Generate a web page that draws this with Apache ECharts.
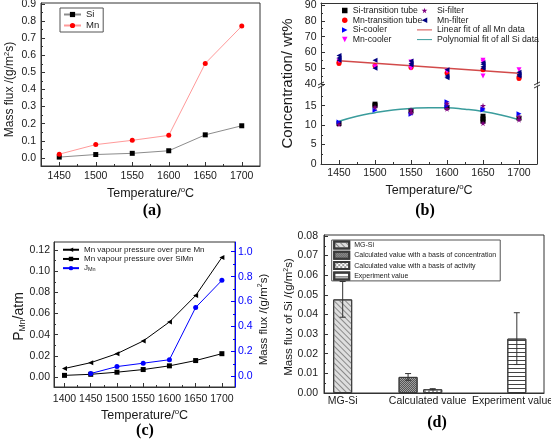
<!DOCTYPE html>
<html><head><meta charset="utf-8">
<script src="https://cdn.jsdelivr.net/npm/echarts@6/dist/echarts.min.js"></script>
<style>html,body{margin:0;padding:0;background:#fff}#c{width:551px;height:442px}</style>
</head><body><div id="c"></div>
<script>
// ---------------- (a) ----------------
const tempA = [1450, 1500, 1550, 1600, 1650, 1700];
const siFluxA = [0.005, 0.020, 0.027, 0.042, 0.135, 0.188];
const mnFluxA = [0.022, 0.078, 0.103, 0.132, 0.552, 0.770];
const tempTicks = [1450, 1500, 1550, 1600, 1650, 1700];
const fluxTicksA = [0, 0.1, 0.2, 0.3, 0.4, 0.5, 0.6, 0.7, 0.8, 0.9];

// ---------------- (b) ----------------
const siTransTube = [[1450,10.4],[1500,15.4],[1500,15.0],[1550,13.6],[1600,14.6],[1650,12.3],[1650,11.6],[1650,11.0],[1700,11.8]];
const siFilter = [[1450,10.2],[1500,14.6],[1550,13.9],[1550,13.2],[1600,15.6],[1600,14.2],[1650,15.0],[1650,10.5],[1700,11.4],[1700,12.2]];
const siCooler = [[1450,10.8],[1500,13.8],[1550,12.8],[1600,16.0],[1600,15.0],[1650,14.2],[1650,13.9],[1700,12.9]];
const mnTransTube = [[1450,53.0],[1450,53.8],[1500,51.5],[1550,50.5],[1600,47.0],[1650,49.0],[1700,43.5],[1700,44.5]];
const mnCooler = [[1450,54.5],[1500,51.0],[1550,54.0],[1550,50.0],[1600,48.0],[1650,55.0],[1650,54.0],[1650,45.0],[1700,49.0]];
const mnFilter = [[1450,58.0],[1450,56.5],[1450,55.0],[1500,55.0],[1500,50.0],[1550,54.5],[1550,53.0],[1550,52.0],[1600,49.0],[1600,44.0],[1600,45.0],[1650,52.5],[1650,51.0],[1650,50.0],[1650,53.5],[1700,47.5],[1700,46.0],[1700,45.0]];
const mnFitTemps = [1450, 1700];
const mnFitVals = [54.8, 46.8];
const siFitTemps = [1450, 1475, 1500, 1525, 1550, 1575, 1600, 1625, 1650, 1675, 1700];
const siFitVals = [11.0, 12.3, 13.2, 13.9, 14.3, 14.5, 14.5, 14.1, 13.5, 12.6, 11.4];
const concTicksHigh = [40, 50, 60, 70, 80, 90];
const concTicksLow = [0, 5, 10, 15];

// ---------------- (c) ----------------
const tempC = [1400, 1450, 1500, 1550, 1600, 1650, 1700];
const pPureMn = [0.008, 0.0135, 0.022, 0.034, 0.052, 0.077, 0.113];
const pSiMn = [0.0015, 0.0025, 0.0045, 0.007, 0.0105, 0.0155, 0.022];
const tempJ = [1450, 1500, 1550, 1600, 1650, 1700];
const jMn = [0.022, 0.078, 0.105, 0.133, 0.552, 0.770];
const tempTicksC = [1400, 1450, 1500, 1550, 1600, 1650, 1700];
const pTicks = [0, 0.02, 0.04, 0.06, 0.08, 0.10, 0.12];
const jTicks = [0, 0.2, 0.4, 0.6, 0.8, 1.0];

// ---------------- (d) ----------------
const dCategories = ['MG-Si', 'Calculated value', 'Experiment value'];
const dCategoryX = [1, 2, 3];
const dSeriesNames = ['MG-Si', 'Calculated value with a basis of concentration', 'Calculated value with a basis of activity', 'Experiment value'];
const dBarX = [1.0, 1.77, 2.06, 3.05];
const dValues = [0.0477, 0.0082, 0.0019, 0.0277];
const dErrors = [0.0091, 0.0017, 0.0003, 0.0132];
const dTicks = [0, 0.01, 0.02, 0.03, 0.04, 0.05, 0.06, 0.07, 0.08];

// ---------------- helpers ----------------
const FONT = '"Liberation Sans", Arial, sans-serif';
const TXT = '#1a1a1a';
const AX = '#333';
const zip = (a, b) => a.map((v, i) => [v, b[i]]);
const SQ = 'path://M0,0H10V10H0Z';
const TRI_L = 'path://M0,5L10,0V10Z';
const TRI_R = 'path://M0,0L10,5L0,10Z';
const TRI_D = 'path://M0,0H10L5,10Z';
const STAR = 'path://M50,0L61,35L98,35L68,57L79,91L50,70L21,91L32,57L2,35L39,35Z';
const HLINE = 'path://M0,0H30V2H0Z';

function rich(size) {
  const s = Math.round(size * 0.62 * 10) / 10;
  return {
    sup: {fontSize: s, lineHeight: s, verticalAlign: 'top', fontFamily: FONT, color: TXT},
    sub: {fontSize: s, lineHeight: s, verticalAlign: 'bottom', fontFamily: FONT, color: TXT}
  };
}
function vAxis(o) {
  const col = o.color || AX;
  const ax = {
    type: 'value', gridIndex: o.grid, position: o.pos, min: o.min, max: o.max,
    axisLine: {show: true, onZero: false, lineStyle: {color: col, width: 1}},
    axisTick: o.ticks ? {show: true, inside: true, length: 4, customValues: o.ticks, lineStyle: {color: col, width: 1}} : {show: false},
    axisLabel: o.labels ? {show: true, customValues: o.labels, margin: o.margin, fontSize: 10.5, fontFamily: FONT, color: o.labelColor || TXT, formatter: o.fmt} : {show: false},
    splitLine: {show: false}, minorSplitLine: {show: false},
    minorTick: o.split ? {show: true, splitNumber: 2, length: 2, lineStyle: {color: col, width: 1}} : {show: false}
  };
  if (o.split) ax.splitNumber = o.split;
  if (o.name) {
    ax.name = o.name; ax.nameLocation = 'middle'; ax.nameGap = o.nameGap; ax.nameMoveOverlap = false;
    ax.nameTextStyle = {fontSize: o.nameSize, fontFamily: FONT, color: TXT, lineHeight: o.nameSize + 2, rich: rich(o.nameSize), padding: o.namePad || 0};
  }
  return ax;
}
const f0 = v => String(v);
const f1 = v => v.toFixed(1);
const f2 = v => v.toFixed(2);

const xAxis = [
  vAxis({grid: 0, pos: 'bottom', min: 1425, max: 1725, split: 6, ticks: tempTicks, labels: tempTicks, margin: 5, fmt: f0, name: 'Temperature/{sup|o}C', nameGap: 20, nameSize: 12.5}),
  vAxis({grid: 1, pos: 'top', min: 1425, max: 1725}),
  vAxis({grid: 2, pos: 'bottom', min: 1425, max: 1725, split: 6, ticks: tempTicks, labels: tempTicks, margin: 4, fmt: f0, name: 'Temperature/{sup|o}C', nameGap: 19, nameSize: 12.5}),
  vAxis({grid: 3, pos: 'bottom', min: 1380, max: 1725, split: 7, ticks: tempTicksC, labels: tempTicksC, margin: 7, fmt: f0, name: 'Temperature/{sup|o}C', nameGap: 21, nameSize: 12.5}),
  vAxis({grid: 4, pos: 'bottom', min: 0.78, max: 3.37, labels: dCategoryX, margin: 3, fmt: v => dCategories[dCategoryX.indexOf(v)]})
];
const yAxis = [
  vAxis({grid: 0, pos: 'left', min: -0.047, max: 0.905, split: 10, ticks: fluxTicksA, labels: fluxTicksA, margin: 5, fmt: f1, name: 'Mass flux /(g/m{sup|2}s)', nameGap: 24, nameSize: 12, namePad: [0, 10, 0, 0]}),
  vAxis({grid: 1, pos: 'left', min: 40, max: 91.3, split: 5, ticks: concTicksHigh, labels: concTicksHigh, margin: 4.5, fmt: f0}),
  vAxis({grid: 1, pos: 'right', min: 40, max: 91.3}),
  vAxis({grid: 2, pos: 'left', min: 0, max: 20.07, split: 4, ticks: concTicksLow, labels: concTicksLow, margin: 4.5, fmt: f0}),
  vAxis({grid: 2, pos: 'right', min: 0, max: 20.07}),
  vAxis({grid: 3, pos: 'left', min: -0.0095, max: 0.1276, split: 7, ticks: pTicks, labels: pTicks, margin: 4, fmt: f2, name: 'P{sub|Mn}/atm', nameGap: 27, nameSize: 14, namePad: [0, 4, 0, 0]}),
  vAxis({grid: 3, pos: 'right', min: -0.086, max: 1.078, split: 6, ticks: jTicks, labels: jTicks, margin: 3, fmt: f1, color: '#0000ff', labelColor: '#0000ff', name: 'Mass flux /(g/m{sup|2}s)', nameGap: 22, nameSize: 11.5, namePad: [0, 10, 0, 0]}),
  vAxis({grid: 4, pos: 'left', min: 0, max: 0.0805, split: 8, ticks: dTicks, labels: dTicks, margin: 6, fmt: f2, name: 'Mass flux of Si /(g/m{sup|2}s)', nameGap: 28, nameSize: 11.5, namePad: [0, 6, 0, 0]})
];

const gridBox = {show: true, borderColor: AX, borderWidth: 1, backgroundColor: 'transparent', outerBoundsMode: 'none', containLabel: false};
const grid = [
  Object.assign({left: 41, top: 3, width: 219, height: 163}, gridBox),
  {left: 321, top: 3, width: 216, height: 81, show: false, outerBoundsMode: 'none', containLabel: false},
  {left: 321, top: 86, width: 216, height: 78, show: false, outerBoundsMode: 'none', containLabel: false},
  Object.assign({left: 54, top: 242, width: 181, height: 145}, gridBox),
  Object.assign({left: 324, top: 235, width: 220, height: 158}, gridBox)
];

function lineS(name, xi, yi, data, sym, size, symCol, lineCol) {
  return {type: 'line', name, xAxisIndex: xi, yAxisIndex: yi, data, symbol: sym, symbolSize: size,
    showSymbol: true, itemStyle: {color: symCol}, lineStyle: {color: lineCol, width: 1}, emphasis: {disabled: true}, z: 3};
}
function scatS(name, xi, yi, data, sym, size, col) {
  return {type: 'scatter', name, xAxisIndex: xi, yAxisIndex: yi, data, symbol: sym, symbolSize: size,
    itemStyle: {color: col, opacity: 1}, emphasis: {disabled: true}, z: 4};
}

const decals = [
  {symbol: 'rect', symbolSize: 1, color: '#8a8a8a', dashArrayX: [1, 0], dashArrayY: [1, 2.5], rotation: Math.PI / 4},
  {symbol: 'rect', symbolSize: 1, color: '#555555', dashArrayX: [[1, 1], [0, 1, 1, 0]], dashArrayY: [1, 0]},
  {symbol: 'rect', symbolSize: 1, color: '#9a9a9a', dashArrayX: [[2, 2], [0, 2, 2, 0]], dashArrayY: [2, 0]},
  {symbol: 'rect', symbolSize: 1, color: '#444444', dashArrayX: [1, 0], dashArrayY: [1, 3], rotation: 0}
];
const barColors = ['#dedede', '#a0a0a0', '#ffffff', '#ffffff'];

const series = [
  // (a)
  lineS('Si', 0, 0, zip(tempA, siFluxA), SQ, 5, '#000000', '#8c8c8c'),
  lineS('Mn', 0, 0, zip(tempA, mnFluxA), 'circle', 5, '#ff0000', '#ff9a9a'),
  // (b) fits
  {type: 'line', name: 'Linear fit of all Mn data', xAxisIndex: 1, yAxisIndex: 1, data: zip(mnFitTemps, mnFitVals), symbol: 'none', itemStyle: {color: '#d24a4a'}, lineStyle: {color: '#d24a4a', width: 1.5}, emphasis: {disabled: true}, z: 2},
  {type: 'line', name: 'Polynomial fit of all Si data', xAxisIndex: 2, yAxisIndex: 3, data: zip(siFitTemps, siFitVals), smooth: true, symbol: 'none', itemStyle: {color: '#3a9c9c'}, lineStyle: {color: '#3a9c9c', width: 1.5}, emphasis: {disabled: true}, z: 2},
  // (b) scatter
  scatS('Si-transition tube', 2, 3, siTransTube, SQ, 5, '#000000'),
  scatS('Mn-transition tube', 1, 1, mnTransTube, 'circle', 5, '#ff0000'),
  scatS('Si-cooler', 2, 3, siCooler, TRI_R, 5, '#0000ff'),
  scatS('Mn-cooler', 1, 1, mnCooler, TRI_D, 5, '#ff00ff'),
  scatS('Si-filter', 2, 3, siFilter, STAR, 6, '#800080'),
  scatS('Mn-filter', 1, 1, mnFilter, TRI_L, 5, '#000080'),
  // (c)
  lineS('Mn vapour pressure over pure Mn', 3, 5, zip(tempC, pPureMn), TRI_L, 5, '#000000', '#000000'),
  lineS('Mn vapour pressure over SiMn', 3, 5, zip(tempC, pSiMn), SQ, 5, '#000000', '#000000'),
  lineS('J_Mn', 3, 6, zip(tempJ, jMn), 'circle', 5, '#0000ff', '#0000ff')
];
// (d) bars
dSeriesNames.forEach((nm, i) => {
  series.push({type: 'bar', name: nm, xAxisIndex: 4, yAxisIndex: 7, data: [[dBarX[i], dValues[i]]], barWidth: 19, barGap: '-100%',
    itemStyle: {color: barColors[i], borderColor: '#3a3a3a', borderWidth: 1, decal: decals[i]}, emphasis: {disabled: true}, z: 2});
});
series.push({type: 'custom', name: 'err', xAxisIndex: 4, yAxisIndex: 7, z: 5,
  data: dBarX.map((x, i) => [x, dValues[i] - dErrors[i], dValues[i] + dErrors[i]]),
  encode: {x: 0, y: [1, 2]},
  renderItem(params, api) {
    const x = api.value(0);
    const lo = api.coord([x, api.value(1)]);
    const hi = api.coord([x, api.value(2)]);
    const hw = 3, st = {stroke: '#333', lineWidth: 1};
    return {type: 'group', children: [
      {type: 'line', shape: {x1: hi[0], y1: hi[1], x2: lo[0], y2: lo[1]}, style: st},
      {type: 'line', shape: {x1: hi[0] - hw, y1: hi[1], x2: hi[0] + hw, y2: hi[1]}, style: st},
      {type: 'line', shape: {x1: lo[0] - hw, y1: lo[1], x2: lo[0] + hw, y2: lo[1]}, style: st}
    ]};
  }
});

const legText = (fs, lh) => ({fontSize: fs, lineHeight: lh, fontFamily: FONT, color: TXT});
const legend = [
  {orient: 'vertical', left: 60, top: 8, data: ['Si', 'Mn'], itemWidth: 17, itemHeight: 6.5, itemGap: 1, padding: [1.5, 4, 1.5, 3],
    borderColor: '#555', borderWidth: 1, textStyle: legText(9.5, 9.5), selectedMode: false},
  {orient: 'vertical', left: 342, top: 6, data: ['Si-transition tube', 'Mn-transition tube', 'Si-cooler', 'Mn-cooler'],
    itemWidth: 6, itemHeight: 5.5, itemGap: 0.7, padding: 0, textStyle: legText(8.7, 9), selectedMode: false},
  {orient: 'vertical', left: 417, top: 6, data: ['Si-filter', 'Mn-filter', {name: 'Linear fit of all Mn data', icon: HLINE}, {name: 'Polynomial fit of all Si data', icon: HLINE}],
    itemWidth: 15, itemHeight: 5.5, itemGap: 0.7, padding: 0, textStyle: legText(8.7, 9), selectedMode: false},
  {orient: 'vertical', left: 62, top: 245.5, data: ['Mn vapour pressure over pure Mn', 'Mn vapour pressure over SiMn', 'J_Mn'],
    itemWidth: 16, itemHeight: 5.5, itemGap: 0.7, padding: 0, selectedMode: false,
    formatter: n => n === 'J_Mn' ? 'J{sub|Mn}' : n,
    textStyle: Object.assign(legText(8, 8.5), {rich: {sub: {fontSize: 5.5, lineHeight: 5.5, verticalAlign: 'bottom', fontFamily: FONT, color: TXT}}})},
  {orient: 'vertical', left: 331.7, top: 240, data: dSeriesNames, icon: 'rect', itemWidth: 15, itemHeight: 7, itemGap: 1.3,
    padding: [0.5, 4, 0.5, 1.5], borderColor: '#555', borderWidth: 1, textStyle: legText(7, 8), selectedMode: false}
];

const capFont = 'bold 16px "Liberation Serif", "Times New Roman", serif';
function cap(t, x, y) {
  return {type: 'text', x, y, style: {text: t, font: capFont, fill: '#000', align: 'center', verticalAlign: 'middle', textAlign: 'center', textVerticalAlign: 'middle'}};
}
function brk(x, y) {
  return {type: 'group', x, y, children: [
    {type: 'rect', shape: {x: -2, y: -3, width: 4, height: 6}, style: {fill: '#fff'}},
    {type: 'line', shape: {x1: -3, y1: 0, x2: 3, y2: -3}, style: {stroke: AX, lineWidth: 1}},
    {type: 'line', shape: {x1: -3, y1: 3, x2: 3, y2: 0}, style: {stroke: AX, lineWidth: 1}}
  ]};
}
const graphic = [
  cap('(a)', 152, 211), cap('(b)', 425, 211), cap('(c)', 145, 431), cap('(d)', 437, 423),
  {type: 'text', x: 288, y: 83.5, rotation: Math.PI / 2,
    style: {text: 'Concentration/ wt%', font: '15px "Liberation Sans", Arial, sans-serif', fill: TXT, align: 'center', verticalAlign: 'middle', textAlign: 'center', textVerticalAlign: 'middle'}},
  brk(321, 85), brk(537, 85)
];

const chart = echarts.init(document.getElementById('c'), null, {renderer: 'canvas'});
chart.setOption({animation: false, backgroundColor: '#fff', grid, xAxis, yAxis, series, legend, graphic, tooltip: {show: false}});
</script></body></html>
